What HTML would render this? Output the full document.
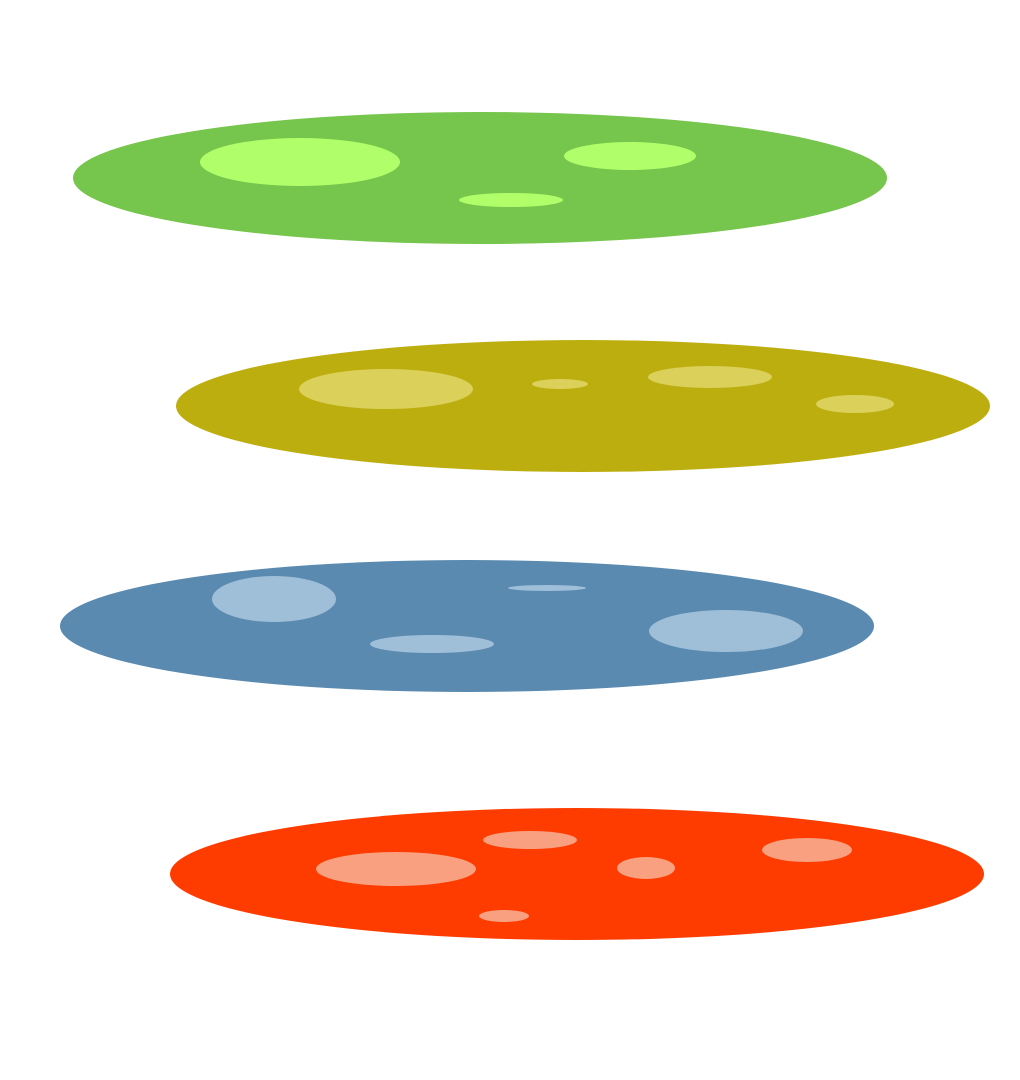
<!DOCTYPE html>
<html><head><meta charset="utf-8"><style>html,body{margin:0;padding:0;background:#fff}svg{display:block}</style></head>
<body>
<svg id="chart" width="1020" height="1080" viewBox="0 0 1020 1080" xmlns="http://www.w3.org/2000/svg"></svg>
<script>
const discNames = ['green-disc','olive-disc','blue-disc','red-disc'];
const discCx = [480, 583, 467, 577];
const discCy = [178, 406, 626, 874];
const discRx = [407, 407, 407, 407];
const discRy = [66, 66, 66, 66];
const discFill = ['#76c54c','#bdae10','#5a8ab0','#ff3c00'];
const spotFill = ['#b0ff6a','#dbd05a','#9fbfd9','#f8a080'];
const spots = [
  [[300,162,100,24],[630,156,66,14],[511,200,52,7]],
  [[386,389,87,20],[560,384,28,5],[710,377,62,11],[855,404,39,9]],
  [[274,599,62,23],[547,588,39,3],[432,644,62,9],[726,631,77,21]],
  [[396,869,80,17],[530,840,47,9],[646,868,29,11],[807,850,45,12],[504,916,25,6]]
];
const svg = document.getElementById('chart');
const NS = 'http://www.w3.org/2000/svg';
discNames.forEach((n,i)=>{
  const g = document.createElementNS(NS,'g');
  
  
  const e = document.createElementNS(NS,'ellipse');
  
  
  e.setAttribute('cx', discCx[i]); e.setAttribute('cy', discCy[i]);
  e.setAttribute('rx', discRx[i]); e.setAttribute('ry', discRy[i]);
  e.setAttribute('fill', discFill[i]);
  g.appendChild(e);
  spots[i].forEach((s,j)=>{
    const sp = document.createElementNS(NS,'ellipse');
    
    
    sp.setAttribute('cx', s[0]); sp.setAttribute('cy', s[1]);
    sp.setAttribute('rx', s[2]); sp.setAttribute('ry', s[3]);
    sp.setAttribute('fill', spotFill[i]);
    g.appendChild(sp);
  });
  svg.appendChild(g);
});
</script>
</body></html>
